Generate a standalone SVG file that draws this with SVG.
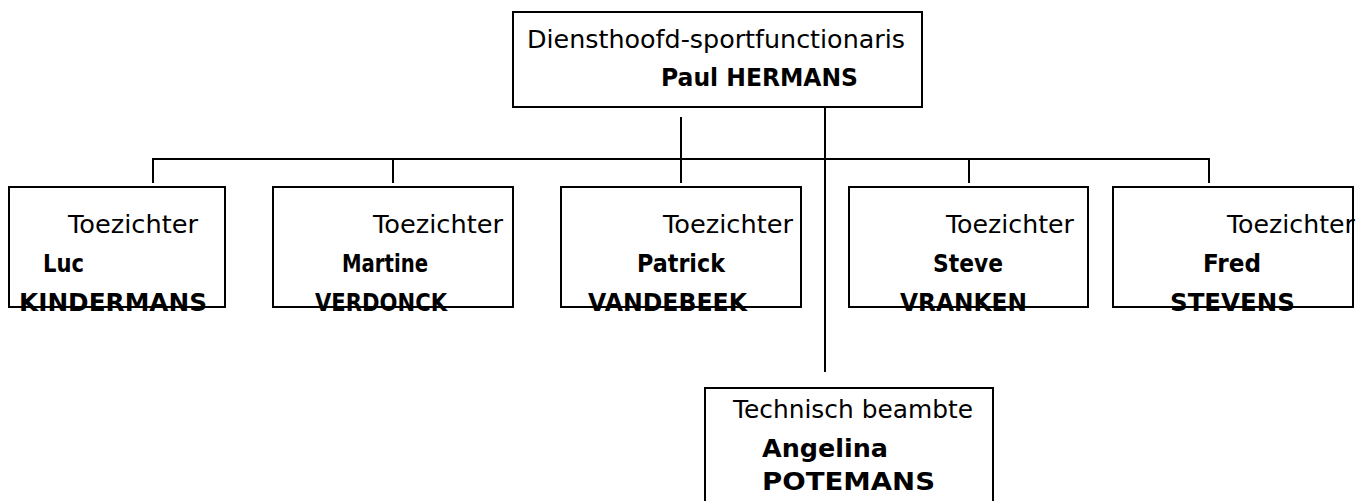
<svg xmlns="http://www.w3.org/2000/svg" width="1359" height="501" viewBox="0 0 1359 501">
<style>
.box{fill:#fff;stroke:#000;stroke-width:2}
.ln{stroke:#000;stroke-width:2;fill:none}
text{font-family:"DejaVu Sans","Open Sans",sans-serif;font-size:25px;fill:#000}
.b{font-weight:bold}
</style>
<rect width="1359" height="501" fill="#fff"/>
<g id="connectors">
<line class="ln" x1="825" y1="107" x2="825" y2="372"/>
<line class="ln" x1="681" y1="117" x2="681" y2="183"/>
<polyline class="ln" points="153,183 153,159 1209,159 1209,183"/>
<line class="ln" x1="393" y1="159" x2="393" y2="183"/>
<line class="ln" x1="969" y1="159" x2="969" y2="183"/>
</g>
<g id="head">
<rect class="box" x="513" y="12" width="409" height="95"/>
<text x="527" y="48" textLength="378" lengthAdjust="spacingAndGlyphs">Diensthoofd-sportfunctionaris</text>
<text class="b" x="661" y="86" textLength="197" lengthAdjust="spacingAndGlyphs">Paul HERMANS</text>
</g>
<g id="n1">
<rect class="box" x="9" y="187" width="216" height="120"/>
<text x="68" y="233" textLength="130" lengthAdjust="spacingAndGlyphs">Toezichter</text>
<text class="b" x="43" y="272" textLength="41" lengthAdjust="spacingAndGlyphs">Luc</text>
<text class="b" x="19" y="311" textLength="188" lengthAdjust="spacingAndGlyphs">KINDERMANS</text>
</g>
<g id="n2">
<rect class="box" x="273" y="187" width="240" height="120"/>
<text x="373" y="233" textLength="130" lengthAdjust="spacingAndGlyphs">Toezichter</text>
<text class="b" x="342" y="272" textLength="86" lengthAdjust="spacingAndGlyphs">Martine</text>
<text class="b" x="315" y="311" textLength="132" lengthAdjust="spacingAndGlyphs">VERDONCK</text>
</g>
<g id="n3">
<rect class="box" x="561" y="187" width="240" height="120"/>
<text x="663" y="233" textLength="130" lengthAdjust="spacingAndGlyphs">Toezichter</text>
<text class="b" x="637" y="272" textLength="88" lengthAdjust="spacingAndGlyphs">Patrick</text>
<text class="b" x="588" y="311" textLength="159" lengthAdjust="spacingAndGlyphs">VANDEBEEK</text>
</g>
<g id="n4">
<rect class="box" x="849" y="187" width="239" height="120"/>
<text x="946" y="233" textLength="128" lengthAdjust="spacingAndGlyphs">Toezichter</text>
<text class="b" x="933" y="272" textLength="70" lengthAdjust="spacingAndGlyphs">Steve</text>
<text class="b" x="900" y="311" textLength="127" lengthAdjust="spacingAndGlyphs">VRANKEN</text>
</g>
<g id="n5">
<rect class="box" x="1113" y="187" width="240" height="120"/>
<text x="1227" y="233" textLength="128" lengthAdjust="spacingAndGlyphs">Toezichter</text>
<text class="b" x="1203" y="272" textLength="58" lengthAdjust="spacingAndGlyphs">Fred</text>
<text class="b" x="1170" y="311" textLength="125" lengthAdjust="spacingAndGlyphs">STEVENS</text>
</g>
<g id="tech">
<rect class="box" x="705" y="388" width="288" height="130"/>
<text x="733" y="418" textLength="240" lengthAdjust="spacingAndGlyphs">Technisch beambte</text>
<text class="b" x="762" y="457" textLength="126" lengthAdjust="spacingAndGlyphs">Angelina</text>
<text class="b" x="762" y="490" textLength="173" lengthAdjust="spacingAndGlyphs">POTEMANS</text>
</g>
</svg>
